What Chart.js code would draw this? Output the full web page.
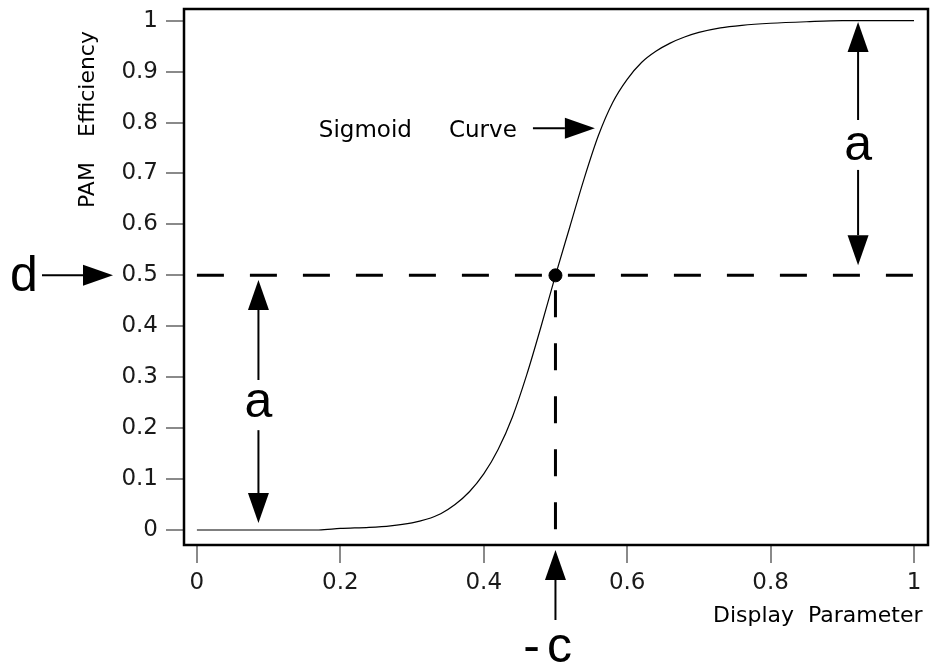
<!DOCTYPE html>
<html>
<head>
<meta charset="utf-8">
<title>Sigmoid Curve</title>
<script src="https://cdn.jsdelivr.net/npm/chart.js"></script>
<style>
  html, body { margin: 0; padding: 0; background: #fff; }
  #wrap { width: 941px; height: 664px; }
</style>
</head>
<body>
<div id="wrap"><canvas id="sigChart" width="941" height="664"></canvas></div>
<script>
// values
var curveX = [0, 0.1, 0.17, 0.2, 0.24, 0.27, 0.3, 0.32, 0.34, 0.36, 0.38, 0.4, 0.42, 0.44, 0.46, 0.48, 0.5,
              0.52, 0.54, 0.56, 0.58, 0.6, 0.62, 0.64, 0.66, 0.68, 0.7, 0.73, 0.76, 0.8, 0.85, 0.9, 1.0];
var curveY = [0, 0, 0, 0.003, 0.005, 0.008, 0.014, 0.021, 0.032, 0.05, 0.075, 0.11, 0.158, 0.222, 0.305, 0.4, 0.5,
              0.595, 0.69, 0.775, 0.84, 0.885, 0.918, 0.94, 0.956, 0.968, 0.977, 0.986, 0.991, 0.995, 0.998, 1.0, 1.0];
var xTicks = [0, 0.2, 0.4, 0.6, 0.8, 1];
var yTicks = [0, 0.1, 0.2, 0.3, 0.4, 0.5, 0.6, 0.7, 0.8, 0.9, 1];
var midX = 0.5,   // -c
    midY = 0.5;   // d

var X_MIN = -0.018, X_MAX = 1.0195, Y_MIN = -0.0295, Y_MAX = 1.023;
var SMALL = '22px "DejaVu Sans"',
    BIG = '50px "Liberation Sans"';

var curvePts = curveX.map(function(x, i){ return {x: x, y: curveY[i]}; });

function arrow(ctx, x1, y1, x2, y2){
    // tail (x1,y1) -> tip (x2,y2)
    var ang = Math.atan2(y2 - y1, x2 - x1),
        hl = 30, hw = 10.5;
    var bx = x2 - hl * Math.cos(ang),
        by = y2 - hl * Math.sin(ang);
    ctx.beginPath();
    ctx.moveTo(x1, y1);
    ctx.lineTo(bx, by);
    ctx.lineWidth = 2;
    ctx.stroke();
    ctx.beginPath();
    ctx.moveTo(x2, y2);
    ctx.lineTo(bx + hw * Math.sin(ang), by - hw * Math.cos(ang));
    ctx.lineTo(bx - hw * Math.sin(ang), by + hw * Math.cos(ang));
    ctx.closePath();
    ctx.fill();
}

var notes = {
    id: 'notes',
    afterDraw: function(chart){
        var ctx = chart.ctx,
            a = chart.chartArea,
            xs = chart.scales.x,
            ys = chart.scales.y;
        var px = function(v){ return xs.getPixelForValue(v); },
            py = function(v){ return ys.getPixelForValue(v); };
        ctx.save();
        ctx.strokeStyle = '#000';
        ctx.fillStyle = '#000';

        // frame
        ctx.lineWidth = 2.5;
        ctx.strokeRect(a.left, a.top, a.right - a.left, a.bottom - a.top);

        // a (left)
        arrow(ctx, px(0.0858), py(0.2945), px(0.0858), py(0.491));
        arrow(ctx, px(0.0858), py(0.196), px(0.0858), py(0.0137));
        // a (right)
        arrow(ctx, px(0.922), py(0.805), px(0.922), py(0.9975));
        arrow(ctx, px(0.922), py(0.707), px(0.922), py(0.520));
        ctx.font = BIG;
        ctx.textAlign = 'center';
        ctx.textBaseline = 'alphabetic';
        ctx.fillText('a', px(0.0858), py(0.222));
        ctx.fillText('a', px(0.922), py(0.7265));

        // d
        arrow(ctx, a.left - 142, py(midY), a.left - 71, py(midY));
        ctx.textAlign = 'left';
        ctx.fillText('d', 10, py(midY) + 16);

        // -c
        arrow(ctx, px(midX), 620, px(midX), 550);
        ctx.textAlign = 'center';
        ctx.fillText('-', px(midX) - 24, 662);
        ctx.fillText('c', px(midX) + 4, 662);

        // sigmoid label
        ctx.font = '23px "DejaVu Sans"';
        ctx.textAlign = 'left';
        ctx.fillText('Sigmoid', px(0.170), py(0.7717));
        ctx.fillText('Curve', px(0.3515), py(0.7717));
        arrow(ctx, px(0.4686), py(0.789), px(0.555), py(0.789));

        // axis titles
        ctx.font = SMALL;
        ctx.fillText('Display', 713, 622);
        ctx.fillText('Parameter', 808, 622);
        ctx.translate(94, 208);
        ctx.rotate(-Math.PI / 2);
        ctx.fillText('PAM', 0, 0);
        ctx.fillText('Efficiency', 71, 0);
        ctx.restore();
    }
};

function noPad(s){
    s.paddingTop = 0;
    s.paddingBottom = 0;
    s.paddingLeft = 0;
    s.paddingRight = 0;
}

var ctx = document.getElementById('sigChart').getContext('2d');
var sigChart = new Chart(ctx, {
    type: 'scatter',
    data: {
        datasets: [
            {
                label: 'Sigmoid',
                data: curvePts,
                showLine: true,
                borderColor: '#000',
                borderWidth: 1.2,
                pointRadius: 0,
                cubicInterpolationMode: 'monotone',
                order: 1
            },
            {
                label: 'd line',
                data: [{x: 0, y: midY}, {x: 1, y: midY}],
                showLine: true,
                borderColor: '#000',
                borderWidth: 3,
                borderDash: [27, 26],
                pointRadius: 0,
                order: 2
            },
            {
                label: 'c line',
                data: [{x: midX, y: midY}, {x: midX, y: Y_MIN}],
                showLine: true,
                borderColor: '#000',
                borderWidth: 3,
                borderDash: [27, 26],
                borderDashOffset: 38,
                pointRadius: 0,
                order: 3
            },
            {
                label: 'centre',
                data: [{x: midX, y: midY}],
                pointRadius: 6.5,
                pointBackgroundColor: '#000',
                pointBorderColor: '#000',
                order: 0
            }
        ]
    },
    options: {
        responsive: false,
        animation: false,
        layout: { padding: { top: 9, right: 13, left: 0, bottom: 0 } },
        plugins: { legend: { display: false }, tooltip: { enabled: false } },
        scales: {
            x: {
                type: 'linear',
                position: 'bottom',
                min: X_MIN,
                max: X_MAX,
                border: { display: false },
                grid: { drawOnChartArea: false, drawTicks: true, tickLength: 18, color: '#8a8a8a', lineWidth: 2 },
                ticks: { font: { family: 'DejaVu Sans', size: 23 }, color: '#1a1a1a', padding: 6, maxRotation: 0,
                         callback: function(v){ return String(v); } },
                afterBuildTicks: function(s){ s.ticks = xTicks.map(function(v){ return {value: v}; }); },
                afterFit: function(s){ s.height = 119; noPad(s); }
            },
            y: {
                type: 'linear',
                min: Y_MIN,
                max: Y_MAX,
                border: { display: false },
                grid: { drawOnChartArea: false, drawTicks: true, tickLength: 18, color: '#8a8a8a', lineWidth: 2 },
                ticks: { font: { family: 'DejaVu Sans', size: 23 }, color: '#1a1a1a', padding: 8,
                         callback: function(v){ return String(v); } },
                afterBuildTicks: function(s){ s.ticks = yTicks.map(function(v){ return {value: v}; }); },
                afterFit: function(s){ s.width = 184; noPad(s); }
            }
        }
    },
    plugins: [notes]
});
</script>
</body>
</html>
